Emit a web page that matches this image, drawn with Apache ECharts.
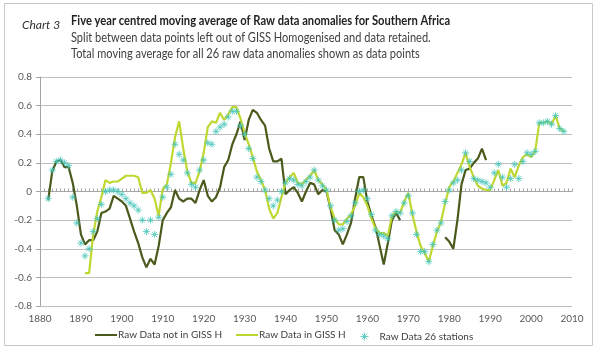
<!DOCTYPE html>
<html>
<head>
<meta charset="utf-8">
<script src="https://cdn.jsdelivr.net/npm/echarts@6/dist/echarts.min.js"></script>
<style>
  html, body { margin: 0; padding: 0; background: #fff; }
  #chart { width: 600px; height: 353px; }
</style>
</head>
<body>
<div id="chart"></div>
<script>
  // first year of the five year centred averages
  var startYear = 1882

  // Raw Data not in GISS H (1882 - 1989, gap in the 1970s)
  var notInGiss = [
    -0.06, 0.14, 0.21, 0.22, 0.17, 0.17, 0.06, -0.10,
    -0.30, -0.37, -0.34, -0.34, -0.28, -0.15, -0.14, -0.12, -0.03, -0.05,
    -0.07, -0.10, -0.19, -0.28, -0.36, -0.46, -0.53, -0.47, -0.51, -0.38,
    -0.20, -0.15, -0.11, 0.01, -0.05, -0.07, -0.05, -0.05, -0.08, 0.01,
    0.08, -0.03, -0.07, -0.04, 0.03, 0.17, 0.22, 0.33, 0.40, 0.49,
    0.36, 0.50, 0.57, 0.55, 0.50, 0.46, 0.30, 0.21, 0.21, 0.23,
    -0.02, 0.01, 0.03, -0.01, -0.07, 0.00, 0.06, 0.05, -0.02, 0.01,
    0.00, -0.12, -0.27, -0.30, -0.37, -0.30, -0.22, -0.05, 0.10, 0.10,
    -0.07, -0.17, -0.25, -0.38, -0.51, -0.36, -0.20, -0.15, -0.20, null,
    null, null, null, null, null, null, null, null, null, -0.32,
    -0.35, -0.40, -0.20, 0.05, 0.15, 0.16, 0.20, 0.23, 0.30, 0.22
  ]

  // Raw Data in GISS H (1891 - 2008)
  var inGiss = [
    null, null, null, null, null, null, null, null,
    null, -0.57, -0.57, -0.30, -0.14, -0.04, 0.08, 0.06, 0.07, 0.07,
    0.09, 0.11, 0.11, 0.11, 0.10, -0.01, -0.01, 0.01, -0.05, -0.17,
    0.02, 0.05, 0.20, 0.38, 0.49, 0.30, 0.14, 0.06, 0.06, 0.14,
    0.27, 0.45, 0.49, 0.48, 0.55, 0.50, 0.54, 0.59, 0.59, 0.51,
    0.41, 0.33, 0.24, 0.14, 0.08, 0.01, -0.12, -0.19, -0.15, -0.04,
    0.06, 0.10, 0.13, 0.06, 0.05, 0.08, 0.11, 0.15, 0.08, 0.05,
    0.01, -0.11, -0.19, -0.23, -0.23, -0.19, -0.16, -0.10, -0.01, -0.04,
    -0.10, -0.19, -0.26, -0.29, -0.29, -0.31, -0.17, -0.14, -0.15, -0.07,
    -0.01, -0.16, -0.28, -0.38, -0.43, -0.49, -0.38, -0.28, -0.21, -0.08,
    0.03, 0.07, 0.13, 0.19, 0.27, 0.17, 0.10, 0.04, 0.02, 0.01,
    0.01, 0.08, 0.15, 0.04, 0.06, 0.16, 0.10, 0.18, 0.24, 0.26,
    0.24, 0.28, 0.48, 0.48, 0.49, 0.47, 0.53, 0.44, 0.42
  ]

  // Raw Data 26 stations (1882 - 2008)
  var stations26 = [
    -0.05, 0.15, 0.21, 0.22, 0.20, 0.18, -0.04, -0.22,
    -0.36, -0.45, -0.40, -0.28, -0.19, -0.09, 0.00, 0.01, 0.01, 0.00,
    -0.02, -0.05, -0.08, -0.10, -0.13, -0.20, -0.28, -0.20, -0.30, -0.18,
    -0.04, 0.03, 0.12, 0.33, 0.26, 0.22, 0.13, 0.05, 0.03, 0.15,
    0.22, 0.34, 0.33, 0.42, 0.45, 0.47, 0.52, 0.56, 0.56, 0.46,
    0.40, 0.30, 0.23, 0.10, 0.07, 0.01, -0.05, -0.10, -0.06, 0.00,
    0.06, 0.09, 0.08, 0.05, 0.04, 0.07, 0.10, 0.15, 0.08, 0.04,
    0.01, -0.10, -0.20, -0.27, -0.26, -0.21, -0.17, -0.08, 0.00, 0.01,
    -0.05, -0.16, -0.27, -0.30, -0.31, -0.33, -0.17, -0.14, -0.15, -0.08,
    -0.03, -0.15, -0.30, -0.42, -0.42, -0.49, -0.37, -0.27, -0.22, -0.07,
    0.01, 0.06, 0.08, 0.15, 0.27, 0.21, 0.09, 0.08, 0.07, 0.06,
    0.03, 0.13, 0.19, 0.10, 0.03, 0.09, 0.19, 0.09, 0.21, 0.27,
    0.26, 0.28, 0.48, 0.48, 0.49, 0.47, 0.53, 0.44, 0.42
  ]

  var seriesNames = ['Raw Data not in GISS H', 'Raw Data in GISS H', 'Raw Data 26 stations']
  var titleLines = [
    'Five year centred moving average of Raw data anomalies for Southern Africa',
    'Split between data points left out of GISS Homogenised and data retained.',
    'Total moving average for all 26 raw data anomalies shown as data points'
  ]

  var font = 'Lato, "Open Sans", sans-serif'
  var starPath = 'path://M0,5L10,5M5,0L5,10M1.5,1.5L8.5,8.5M8.5,1.5L1.5,8.5'
  var darkColor = '#4a5a1c'
  var lightColor = '#c0d732'
  var starColor = '#45c6b8'

  function pairs (arr) {
    var out = []
    for (var i = 0; i < arr.length; i++) {
      out.push([startYear + i, arr[i]])
    }
    return out
  }

  var myChart = echarts.init(document.getElementById('chart'))
  var option = {
    backgroundColor: '#fff',
    animation: false,
    textStyle: { fontFamily: font },
    grid: { left: 40, right: 28, top: 77, bottom: 47 },
    graphic: [
      { type: 'rect', shape: { x: 4.5, y: 3.5, width: 588, height: 342 },
        style: { fill: 'none', stroke: '#c8c8c8', lineWidth: 1 } },
      { type: 'text', x: 22, y: 25,
        style: { text: 'Chart 3', font: 'italic 12px ' + font, fill: '#333', verticalAlign: 'middle' } },
      { type: 'text', x: 71, y: 21, scaleX: 0.86,
        style: { text: titleLines[0], font: 'bold 13px ' + font, fill: '#222', verticalAlign: 'middle' } },
      { type: 'text', x: 71, y: 38, scaleX: 0.85,
        style: { text: titleLines[1], font: '13px ' + font, fill: '#404040', verticalAlign: 'middle' } },
      { type: 'text', x: 71, y: 54, scaleX: 0.85,
        style: { text: titleLines[2], font: '13px ' + font, fill: '#404040', verticalAlign: 'middle' } }
    ],
    legend: [
      { left: 90, top: 325, itemWidth: 22, itemHeight: 2, itemGap: 2,
        data: [{ name: seriesNames[0], icon: 'rect' }],
        textStyle: { fontSize: 10, color: '#404040', padding: [0, 0, 0, -4] } },
      { left: 231, top: 325, itemWidth: 22, itemHeight: 2,
        data: [{ name: seriesNames[1], icon: 'rect' }],
        textStyle: { fontSize: 10, color: '#404040', padding: [0, 0, 0, -4] } },
      { left: 353, top: 325, itemWidth: 8, itemHeight: 8,
        data: [{ name: seriesNames[2], icon: starPath }],
        itemStyle: { color: 'none', borderColor: starColor, borderWidth: 1 },
        textStyle: { fontSize: 10, color: '#404040', padding: [0, 0, 0, 6] } }
    ],
    xAxis: {
      type: 'value',
      min: 1880,
      max: 2010,
      interval: 10,
      axisLine: { onZero: true, lineStyle: { color: '#a6a6a6', width: 1 } },
      axisTick: { show: true, inside: true, length: 3, lineStyle: { color: '#a6a6a6' } },
      minorTick: { show: true, splitNumber: 10, length: 3, lineStyle: { color: '#a6a6a6' } },
      splitLine: { show: false },
      axisLabel: {
        fontSize: 10, color: '#595959', margin: 8,
        formatter: function (v) { return String(v) }
      }
    },
    yAxis: {
      type: 'value',
      min: -0.8,
      max: 0.8,
      interval: 0.2,
      axisLine: { show: true, lineStyle: { color: '#a6a6a6' } },
      axisTick: { show: true, length: 4, lineStyle: { color: '#a6a6a6' } },
      splitLine: { lineStyle: { color: '#bfbfbf', width: 1 } },
      axisLabel: { fontSize: 10, color: '#595959', margin: 8 }
    },
    series: [
      {
        name: seriesNames[0],
        type: 'line',
        data: pairs(notInGiss),
        symbol: 'none',
        connectNulls: false,
        lineStyle: { color: darkColor, width: 2.2 },
        itemStyle: { color: darkColor },
        z: 2
      },
      {
        name: seriesNames[1],
        type: 'line',
        data: pairs(inGiss),
        symbol: 'none',
        connectNulls: false,
        lineStyle: { color: lightColor, width: 2.2 },
        itemStyle: { color: lightColor },
        z: 3
      },
      {
        name: seriesNames[2],
        type: 'scatter',
        data: pairs(stations26),
        symbol: starPath,
        symbolSize: 7,
        itemStyle: { color: 'none', borderColor: starColor, borderWidth: 1 },
        z: 4
      }
    ]
  }
  myChart.setOption(option)
</script>
</body>
</html>
